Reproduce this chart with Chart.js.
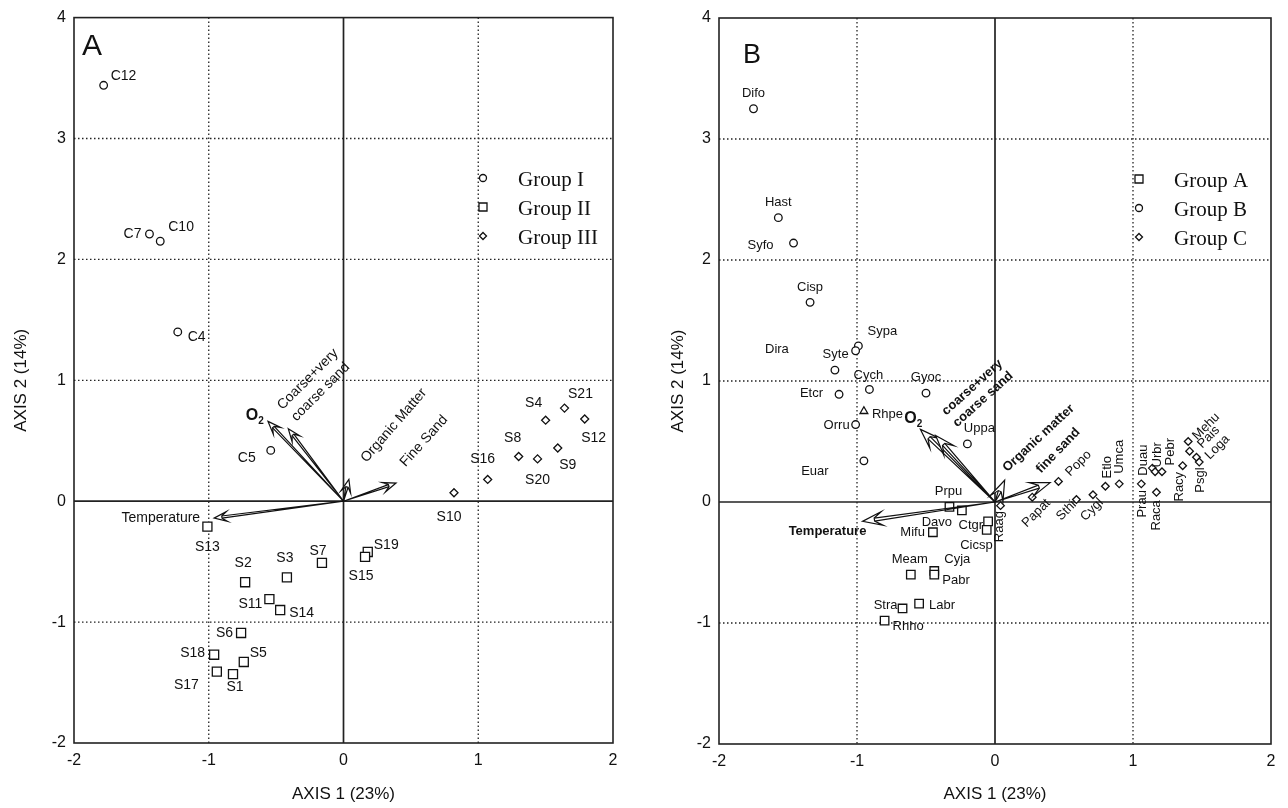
<!DOCTYPE html>
<html>
<head>
<meta charset="utf-8">
<script src="https://cdn.jsdelivr.net/npm/chart.js@4.4.1/dist/chart.umd.min.js"></script>
<style>
  body { margin: 0; background: #fff; }
  .panel { position: absolute; top: 0; width: 644px; height: 808px; }
</style>
</head>
<body>
<div class="panel" style="left:0"><canvas id="chartA"></canvas></div>
<div class="panel" style="left:644px"><canvas id="chartB"></canvas></div>
<script>
// ---------- panel A : sites ----------
const aGroupI = ["C12", "C7", "C10", "C4", "C5"];
const aGroupIX = [-1.78, -1.44, -1.36, -1.23, -0.54];
const aGroupIY = [3.44, 2.21, 2.15, 1.40, 0.42];

const aGroupII = ["S13", "S2", "S3", "S7", "S19", "S15", "S11", "S14", "S6", "S18", "S5", "S17", "S1"];
const aGroupIIX = [-1.01, -0.73, -0.42, -0.16, 0.18, 0.16, -0.55, -0.47, -0.76, -0.96, -0.74, -0.94, -0.82];
const aGroupIIY = [-0.21, -0.67, -0.63, -0.51, -0.42, -0.46, -0.81, -0.90, -1.09, -1.27, -1.33, -1.41, -1.43];

const aGroupIII = ["S10", "S16", "S8", "S20", "S4", "S21", "S12", "S9"];
const aGroupIIIX = [0.82, 1.07, 1.30, 1.44, 1.50, 1.64, 1.79, 1.59];
const aGroupIIIY = [0.07, 0.18, 0.37, 0.35, 0.67, 0.77, 0.68, 0.44];

const aVars = ["Temperature", "O2", "coarseA", "Organic Matter", "Fine Sand"];
const aVarX = [-0.96, -0.56, -0.41, 0.04, 0.39];
const aVarY = [-0.14, 0.66, 0.60, 0.18, 0.15];

// ---------- panel B : species ----------
const bGroupA = ["Prpu", "Davo", "Ctgr", "Cicsp", "Mifu", "Meam", "Cyja", "Pabr", "Labr", "Stra", "Rhho"];
const bGroupAX = [-0.33, -0.24, -0.05, -0.06, -0.45, -0.61, -0.44, -0.44, -0.55, -0.67, -0.80];
const bGroupAY = [-0.04, -0.07, -0.16, -0.23, -0.25, -0.60, -0.57, -0.60, -0.84, -0.88, -0.98];

const bGroupB = ["Difo", "Hast", "Syfo", "Cisp", "Sypa", "Syte", "Dira", "Etcr", "Cych", "Gyoc", "Orru", "Uppa", "Euar"];
const bGroupBX = [-1.75, -1.57, -1.46, -1.34, -0.99, -1.01, -1.16, -1.13, -0.91, -0.50, -1.01, -0.20, -0.95];
const bGroupBY = [3.25, 2.35, 2.14, 1.65, 1.29, 1.25, 1.09, 0.89, 0.93, 0.90, 0.64, 0.48, 0.34];

const bGroupC = ["Raag", "Papat", "Popo", "Sthi", "Cygl", "Etlo", "Umca", "Prau", "Duau", "Urbr", "Pebr", "Raca", "Racy", "Mehu", "Pais", "Loga", "Psgl"];
const bGroupCX = [0.04, 0.27, 0.46, 0.59, 0.71, 0.80, 0.90, 1.06, 1.14, 1.16, 1.21, 1.17, 1.36, 1.40, 1.41, 1.46, 1.48];
const bGroupCY = [-0.03, 0.04, 0.17, 0.02, 0.06, 0.13, 0.15, 0.15, 0.28, 0.25, 0.25, 0.08, 0.30, 0.50, 0.42, 0.37, 0.33];

const bOther = ["Rhpe"];
const bOtherX = [-0.95];
const bOtherY = [0.75];

const bVars = ["Temperature", "O2", "coarseB", "Organic matter", "fine sand"];
const bVarX = [-0.96, -0.54, -0.43, 0.07, 0.40];
const bVarY = [-0.16, 0.60, 0.55, 0.18, 0.16];

const axisTicks = [-2, -1, 0, 1, 2, 3, 4];

// label placement: [dx, dy, align, rotation(deg)]
const labelPosA = {
  C12: [7, -9, "left"], C7: [-8, 0, "right"], C10: [8, -14, "left"], C4: [10, 5, "left"], C5: [-15, 8, "right"],
  S13: [0, 21, "center"], S2: [-2, -19, "center"], S3: [-2, -19, "center"], S7: [-4, -12, "center"],
  S19: [6, -7, "left"], S15: [-4, 19, "center"], S11: [-7, 5, "right"], S14: [9, 3, "left"],
  S6: [-8, 0, "right"], S18: [-9, -2, "right"], S5: [6, -9, "left"], S17: [-18, 13, "right"], S1: [2, 13, "center"],
  S10: [-5, 24, "center"], S16: [-5, -20, "center"], S8: [-6, -18, "center"], S20: [0, 21, "center"],
  S4: [-12, -17, "center"], S21: [16, -14, "center"], S12: [9, 19, "center"], S9: [10, 17, "center"]
};
const labelPosB = {
  Difo: [0, -15, "center"], Hast: [0, -15, "center"], Syfo: [-20, 2, "right"], Cisp: [0, -15, "center"],
  Sypa: [24, -14, "center"], Syte: [-7, 4, "right"], Dira: [-58, -21, "center"], Etcr: [-16, -1, "right"],
  Cych: [-1, -14, "center"], Gyoc: [0, -16, "center"], Rhpe: [8, 3, "left"], Orru: [-6, 1, "right"],
  Uppa: [12, -15, "center"], Euar: [-49, 11, "center"],
  Prpu: [-1, -15, "center"], Davo: [-25, 12, "center"], Ctgr: [-5, 4, "right"], Cicsp: [6, 16, "right"],
  Mifu: [-8, 0, "right"], Meam: [-1, -15, "center"], Cyja: [23, -12, "center"], Pabr: [8, 6, "left"],
  Labr: [10, 2, "left"], Stra: [-5, -3, "right"], Rhho: [8, 6, "left"],
  Raag: [-1, 21, "center", -90], Papat: [4, 16, "center", -45], Popo: [20, -18, "center", -45],
  Sthi: [-10, 11, "center", -45], Cygl: [-1, 15, "center", -45], Etlo: [2, -19, "center", -90],
  Umca: [0, -27, "center", -90], Prau: [1, 20, "center", -90], Duau: [-9, -8, "center", -90],
  Urbr: [2, -17, "center", -90], Pebr: [8, -20, "center", -90], Raca: [0, 23, "center", -90],
  Racy: [-3, 21, "center", -90], Mehu: [18, -15, "center", -45], Pais: [19, -14, "center", -45],
  Loga: [21, -10, "center", -45], Psgl: [1, 18, "center", -90]
};
const varLabelA = {
  Temperature: [-14, 0, "right", 0, ["Temperature"]],
  O2: [-12, -3, "o2"],
  coarseA: [26, -43, "center", -45, ["Coarse+very", "coarse sand"]],
  "Organic Matter": [45, -54, "center", -49, ["Organic Matter"]],
  "Fine Sand": [28, -42, "center", -48, ["Fine Sand"]]
};
const varLabelB = {
  Temperature: [-35, 10, "center", 0, ["Temperature"]],
  O2: [-6, -8, "o2"],
  coarseB: [42, -42, "center", -42, ["coarse+very", "coarse sand"]],
  "Organic matter": [34, -42, "center", -43, ["Organic matter"]],
  "fine sand": [8, -32, "center", -46, ["fine sand"]]
};

const SANS = "'Liberation Sans', Arial, sans-serif";
const SERIF = "'Liberation Serif', 'Times New Roman', serif";

function pts(names, xs, ys) {
  return names.map((n, i) => ({ x: xs[i], y: ys[i], name: n }));
}

function marker(ctx, style, x, y, r) {
  ctx.beginPath();
  if (style === "circle") {
    ctx.arc(x, y, r, 0, Math.PI * 2);
  } else if (style === "rect") {
    ctx.rect(x - r, y - r, 2 * r, 2 * r);
  } else {
    ctx.moveTo(x, y - r); ctx.lineTo(x + r, y); ctx.lineTo(x, y + r); ctx.lineTo(x - r, y); ctx.closePath();
  }
  ctx.fillStyle = "#fff";
  ctx.fill();
  ctx.stroke();
}

// open arrow: narrow outlined shaft + notched head
function drawArrow(ctx, x0, y0, x1, y1, L, W) {
  const a = Math.atan2(y1 - y0, x1 - x0);
  const c = Math.cos(a), s = Math.sin(a);
  const bx = x1 - L * c, by = y1 - L * s;
  const nx = x1 - L * 0.6 * c, ny = y1 - L * 0.6 * s;
  const sw = W * 0.22;
  ctx.beginPath();
  ctx.moveTo(x0, y0);
  ctx.lineTo(nx - s * sw, ny + c * sw);
  ctx.moveTo(x0, y0);
  ctx.lineTo(nx + s * sw, ny - c * sw);
  ctx.stroke();
  ctx.beginPath();
  ctx.moveTo(x1, y1);
  ctx.lineTo(bx - s * W, by + c * W);
  ctx.lineTo(nx - s * sw, ny + c * sw);
  ctx.lineTo(nx + s * sw, ny - c * sw);
  ctx.lineTo(bx + s * W, by - c * W);
  ctx.closePath();
  ctx.fillStyle = "#fff";
  ctx.fill();
  ctx.stroke();
}

function biplotPlugin(p) {
  return {
    id: "biplot",
    beforeDatasetsDraw(chart) {
      const ctx = chart.ctx, xs = chart.scales.x, ys = chart.scales.y;
      const a = chart.chartArea;
      ctx.save();
      ctx.strokeStyle = "#222";
      // dotted grid
      ctx.lineWidth = 1.3;
      ctx.setLineDash([1.5, 2.5]);
      [-1, 1].forEach(v => {
        const px = xs.getPixelForValue(v);
        ctx.beginPath(); ctx.moveTo(px, a.top); ctx.lineTo(px, a.bottom); ctx.stroke();
      });
      [-1, 1, 2, 3].forEach(v => {
        const py = ys.getPixelForValue(v);
        ctx.beginPath(); ctx.moveTo(a.left, py); ctx.lineTo(a.right, py); ctx.stroke();
      });
      // zero lines and frame
      ctx.setLineDash([]);
      ctx.lineWidth = 1.7;
      const x0 = xs.getPixelForValue(0), y0 = ys.getPixelForValue(0);
      ctx.beginPath(); ctx.moveTo(x0, a.top); ctx.lineTo(x0, a.bottom); ctx.stroke();
      ctx.beginPath(); ctx.moveTo(a.left, y0); ctx.lineTo(a.right, y0); ctx.stroke();
      ctx.lineWidth = 1.6;
      ctx.strokeRect(a.left, a.top, a.right - a.left, a.bottom - a.top);
      ctx.restore();
    },
    afterDatasetsDraw(chart) {
      const ctx = chart.ctx, xs = chart.scales.x, ys = chart.scales.y;
      ctx.save();
      ctx.fillStyle = "#111";
      ctx.textBaseline = "middle";
      // point labels
      ctx.font = p.labelFont;
      chart.data.datasets.forEach((ds, di) => {
        const meta = chart.getDatasetMeta(di);
        ds.data.forEach((d, i) => {
          const pos = p.labelPos[d.name];
          if (!pos) return;
          const el = meta.data[i];
          ctx.save();
          ctx.translate(el.x + pos[0], el.y + pos[1]);
          ctx.rotate((pos[3] || 0) * Math.PI / 180);
          ctx.textAlign = pos[2];
          ctx.fillStyle = "#111";
          ctx.fillText(d.name, 0, 0);
          ctx.restore();
        });
      });
      // environmental arrows
      const ox = xs.getPixelForValue(0), oy = ys.getPixelForValue(0);
      ctx.strokeStyle = "#111";
      ctx.lineWidth = 1.2;
      p.vars.forEach((v, i) => {
        const tx = xs.getPixelForValue(p.varX[i]), ty = ys.getPixelForValue(p.varY[i]);
        drawArrow(ctx, ox, oy, tx, ty, p.headL, p.headW);
        const lab = p.varLabel[v];
        ctx.fillStyle = "#111";
        if (lab[2] === "o2") {
          ctx.font = "bold 16px " + SANS;
          ctx.textAlign = "center";
          ctx.fillText("O", tx + lab[0] - 4, ty + lab[1] - 3);
          ctx.font = "bold 10px " + SANS;
          ctx.fillText("2", tx + lab[0] + 5, ty + lab[1] + 3);
          return;
        }
        ctx.font = p.varFont;
        ctx.save();
        ctx.translate(tx + lab[0], ty + lab[1]);
        ctx.rotate(lab[3] * Math.PI / 180);
        ctx.textAlign = lab[2];
        const lines = lab[4];
        lines.forEach((t, k) => {
          ctx.fillText(t, 0, (k - (lines.length - 1) / 2) * p.varLine);
        });
        ctx.restore();
      });
      // legend
      ctx.strokeStyle = "#111";
      ctx.lineWidth = 1.3;
      p.legend.forEach((g, k) => {
        const ly = p.legendY + k * 29;
        marker(ctx, g[1], p.legendX, ly, g[2]);
        ctx.fillStyle = "#111";
        ctx.font = "21px " + SERIF;
        ctx.textAlign = "left";
        ctx.fillText(g[0], p.legendX + 35, ly + 2);
      });
      // panel letter
      ctx.font = p.letterFont;
      ctx.textAlign = "left";
      ctx.textBaseline = "alphabetic";
      ctx.fillText(p.letter, p.letterX, p.letterY);
      ctx.restore();
    }
  };
}

function makePanel(id, p) {
  const ds = p.groups.map(g => ({
    data: g.data,
    pointStyle: g.style,
    pointRadius: g.r,
    pointHoverRadius: g.r,
    borderWidth: 1.3,
    borderColor: "#111",
    backgroundColor: "#fff",
    showLine: false
  }));
  const tickFont = { family: SANS, size: 16 };
  new Chart(document.getElementById(id), {
    type: "scatter",
    data: { datasets: ds },
    options: {
      responsive: true,
      maintainAspectRatio: false,
      animation: false,
      layout: { padding: p.padding },
      plugins: { legend: { display: false }, tooltip: { enabled: false } },
      scales: {
        x: {
          min: -2, max: 2,
          afterBuildTicks: s => { s.ticks = axisTicks.filter(v => v <= 2).map(v => ({ value: v })); },
          afterFit: s => { s.height = p.xHeight; },
          ticks: { font: tickFont, color: "#111", padding: 8 },
          grid: { display: false, drawTicks: false },
          border: { display: false },
          title: { display: true, text: "AXIS 1 (23%)", color: "#111", font: { family: SANS, size: 17 }, padding: { top: 0, bottom: 3 } }
        },
        y: {
          min: -2, max: 4,
          afterBuildTicks: s => { s.ticks = axisTicks.map(v => ({ value: v })); },
          afterFit: s => { s.width = p.yWidth; },
          ticks: { font: tickFont, color: "#111", padding: 8 },
          grid: { display: false, drawTicks: false },
          border: { display: false },
          title: { display: true, text: "AXIS 2 (14%)", color: "#111", font: { family: SANS, size: 17 }, padding: { top: 11, bottom: 0 } }
        }
      }
    },
    plugins: [biplotPlugin(p)]
  });
}

makePanel("chartA", {
  padding: { left: 0, top: 14, right: 31, bottom: 0 },
  yWidth: 74, xHeight: 65,
  groups: [
    { data: pts(aGroupI, aGroupIX, aGroupIY), style: "circle", r: 3.8 },
    { data: pts(aGroupII, aGroupIIX, aGroupIIY), style: "rect", r: 6.4 },
    { data: pts(aGroupIII, aGroupIIIX, aGroupIIIY), style: "rectRot", r: 4 }
  ],
  labelPos: labelPosA, labelFont: "14px " + SANS,
  vars: aVars, varX: aVarX, varY: aVarY, varLabel: varLabelA,
  varFont: "14px " + SANS, varLine: 18, headL: 13, headW: 5,
  legend: [["Group I", "circle", 3.5], ["Group II", "rect", 4], ["Group III", "diamond", 3.5]],
  legendX: 483, legendY: 178,
  letter: "A", letterX: 82, letterY: 55, letterFont: "30px " + SANS
});

makePanel("chartB", {
  padding: { left: 13, top: 18, right: 17, bottom: 0 },
  yWidth: 62, xHeight: 64,
  groups: [
    { data: pts(bGroupA, bGroupAX, bGroupAY), style: "rect", r: 6 },
    { data: pts(bGroupB, bGroupBX, bGroupBY), style: "circle", r: 3.8 },
    { data: pts(bGroupC, bGroupCX, bGroupCY), style: "rectRot", r: 3.8 },
    { data: pts(bOther, bOtherX, bOtherY), style: "triangle", r: 4.5 }
  ],
  labelPos: labelPosB, labelFont: "13px " + SANS,
  vars: bVars, varX: bVarX, varY: bVarY, varLabel: varLabelB,
  varFont: "bold 13px " + SANS, varLine: 16, headL: 20, headW: 7,
  legend: [["Group A", "rect", 4], ["Group B", "circle", 3.5], ["Group C", "diamond", 3.5]],
  legendX: 495, legendY: 179,
  letter: "B", letterX: 99, letterY: 63, letterFont: "27px " + SANS
});
</script>
</body>
</html>
